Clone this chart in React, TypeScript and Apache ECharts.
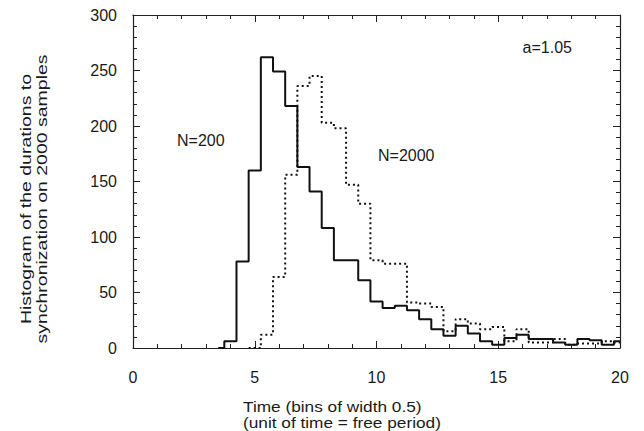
import React, { useEffect, useRef } from "react";
import * as echarts from "echarts";

// Bin centres (bins of width 0.5)
const binCenters = [
  3.5, 4.0, 4.5, 5.0, 5.5, 6.0, 6.5, 7.0, 7.5, 8.0, 8.5, 9.0, 9.5, 10.0, 10.5, 11.0, 11.5,
  12.0, 12.5, 13.0, 13.5, 14.0, 14.5, 15.0, 15.5, 16.0, 16.5, 17.0, 17.5, 18.0, 18.5, 19.0,
  19.5, 20.0,
];

// N=200 (solid)
const countsN200 = [
  0, 6, 78, 160, 262, 249, 218, 163, 141, 108, 79, 79, 61, 42, 36, 38, 34,
  26, 17, 11, 20, 13, 6, 3, 9, 12, 8, 8, 5, 3, 8, 7,
  3, 6,
];

// N=2000 (dotted)
const countsN2000 = [
  null, null, null, 0, 12, 64, 156, 236, 245, 203, 198, 147, 130, 79, 76, 76, 41,
  40, 37, 15, 26, 22, 17, 19, 6, 17, 5, 5, 8, 3, 4, 4,
  6, 5,
];

const xTicks = { min: 0, max: 20, interval: 5 };
const yTicks = { min: 0, max: 300, interval: 50 };

const FONT = '"Liberation Sans", Arial, Helvetica, sans-serif';
const INK = "#1a1a1a";

export default function App() {
  const ref = useRef<HTMLDivElement>(null);

  useEffect(() => {
    if (!ref.current) return;
    const chart = echarts.init(ref.current, undefined, { renderer: "svg" });

    const frameLine = { show: true, onZero: false, lineStyle: { color: "#222", width: 1.2 } };
    const tick = { show: true, inside: true, length: 7, lineStyle: { color: "#222", width: 1 } };
    const minor = { show: true, splitNumber: 5, length: 4, lineStyle: { color: "#222", width: 1 } };

    const pairs = (vals: (number | null)[]) =>
      binCenters.map((x, i) => [x, vals[i]]);

    chart.setOption({
      animation: false,
      backgroundColor: "#ffffff",
      grid: { left: 133, right: 24, top: 15, bottom: 83, containLabel: false },
      xAxis: [
        {
          type: "value",
          position: "bottom",
          ...xTicks,
          axisLine: frameLine,
          axisTick: tick,
          minorTick: minor,
          splitLine: { show: false },
          axisLabel: { show: true, margin: 21, fontSize: 16, fontFamily: FONT, color: INK },
        },
        {
          type: "value",
          position: "top",
          ...xTicks,
          axisLine: frameLine,
          axisTick: tick,
          minorTick: minor,
          splitLine: { show: false },
          axisLabel: { show: false },
        },
      ],
      yAxis: [
        {
          type: "value",
          position: "left",
          ...yTicks,
          axisLine: frameLine,
          axisTick: tick,
          minorTick: minor,
          splitLine: { show: false },
          axisLabel: { show: true, margin: 16, fontSize: 16, fontFamily: FONT, color: INK },
        },
        {
          type: "value",
          position: "right",
          ...yTicks,
          axisLine: frameLine,
          axisTick: tick,
          minorTick: minor,
          splitLine: { show: false },
          axisLabel: { show: false },
        },
      ],
      series: [
        {
          name: "N=200",
          type: "line",
          step: "middle",
          xAxisIndex: 0,
          yAxisIndex: 0,
          symbol: "none",
          data: pairs(countsN200),
          lineStyle: { color: "#111", width: 2, type: "solid" },
        },
        {
          name: "N=2000",
          type: "line",
          step: "middle",
          xAxisIndex: 0,
          yAxisIndex: 0,
          symbol: "none",
          data: pairs(countsN2000),
          lineStyle: { color: "#111", width: 2, type: [2, 3] },
        },
      ],
      graphic: [
        {
          type: "text",
          x: 34,
          y: 199,
          rotation: Math.PI / 2,
          scaleX: 1.3,
          style: {
            text: "Histogram of the durations to\nsynchronization on 2000 samples",
            fontSize: 15,
            fontFamily: FONT,
            fill: INK,
            textAlign: "center",
            textVerticalAlign: "middle",
            align: "center",
            verticalAlign: "middle",
            lineHeight: 16.5,
          },
        },
        {
          type: "text",
          x: 243,
          y: 414,
          scaleX: 1.15,
          style: {
            text: "Time (bins of width 0.5)\n(unit of time = free period)",
            fontSize: 15,
            fontFamily: FONT,
            fill: INK,
            textAlign: "left",
            textVerticalAlign: "middle",
            align: "left",
            verticalAlign: "middle",
            lineHeight: 16,
          },
        },
        {
          type: "text",
          x: 177,
          y: 140,
          style: {
            text: "N=200",
            fontSize: 16,
            fontFamily: FONT,
            fill: INK,
            textAlign: "left",
            textVerticalAlign: "middle",
            align: "left",
            verticalAlign: "middle",
          },
        },
        {
          type: "text",
          x: 378,
          y: 155,
          style: {
            text: "N=2000",
            fontSize: 16,
            fontFamily: FONT,
            fill: INK,
            textAlign: "left",
            textVerticalAlign: "middle",
            align: "left",
            verticalAlign: "middle",
          },
        },
        {
          type: "text",
          x: 572,
          y: 47,
          style: {
            text: "a=1.05",
            fontSize: 16,
            fontFamily: FONT,
            fill: INK,
            textAlign: "right",
            textVerticalAlign: "middle",
            align: "right",
            verticalAlign: "middle",
          },
        },
      ],
    });

    return () => chart.dispose();
  }, []);

  return (
    <div
      ref={ref}
      style={{ position: "fixed", left: 0, top: 0, width: 644, height: 431, background: "#fff" }}
    />
  );
}
